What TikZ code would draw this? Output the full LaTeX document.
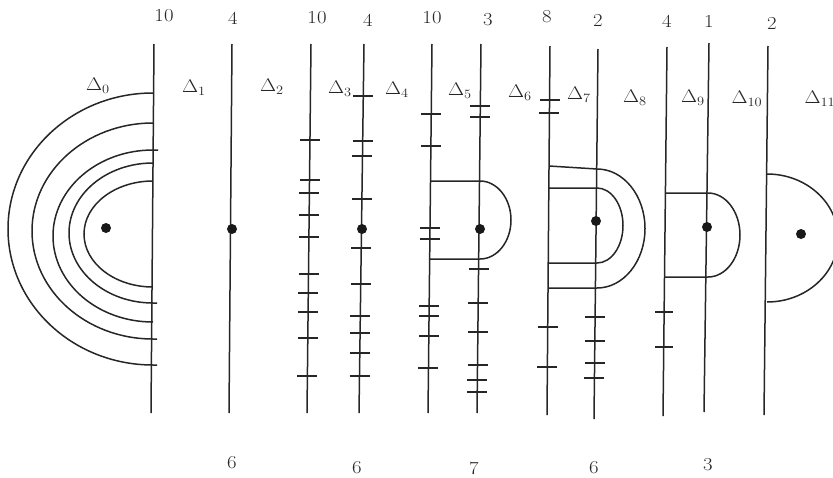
\documentclass[tikz,border=0pt]{standalone}
\usetikzlibrary{calc}
\newcommand{\mytickset}[6]{\foreach \yy in {#5}{\pgfmathsetmacro{\xx}{#1+(#3-#1)*(\yy-#2)/(#4-#2)}\draw[tk] ({\xx-#6},\yy) -- ({\xx+#6},\yy);}}
\begin{document}
\begin{tikzpicture}[x=1pt,y=-1pt,
  ln/.style={line width=1.5pt, draw=black!85},
  tk/.style={line width=1.5pt, draw=black!85},
  dot/.style={circle, fill=black!90, inner sep=0pt, minimum size=10pt},
  lab/.style={font=\fontsize{17.28}{20}\selectfont, inner sep=0pt, text=black!85, xscale=1.2, yscale=1.06, transform shape}]
\useasboundingbox (0,0) rectangle (833,477);

% vertical lines
\coordinate (L1t) at (154,44);  \coordinate (L1b) at (151,413);
\coordinate (L2t) at (232,44);  \coordinate (L2b) at (229,413);
\coordinate (L3t) at (311,44);  \coordinate (L3b) at (307,413);
\coordinate (L4t) at (364,44);  \coordinate (L4b) at (359,413);
\coordinate (L5t) at (432,44);  \coordinate (L5b) at (428,413);
\coordinate (L6t) at (481,44);  \coordinate (L6b) at (477,413);
\coordinate (L7t) at (550,46);  \coordinate (L7b) at (547,415);
\coordinate (L8t) at (598,49);  \coordinate (L8b) at (594,419);
\coordinate (L9t) at (667,47);  \coordinate (L9b) at (663,416);
\coordinate (L10t) at (709,43); \coordinate (L10b) at (704,412);
\coordinate (L11t) at (768,46); \coordinate (L11b) at (764,415);
\foreach \i in {1,...,11} \draw[ln] (L\i t) -- (L\i b);

% ticks
\mytickset{311}{44}{307}{413}{140,180,193,215,237,274,293,312,338,376}{10}
\mytickset{364}{44}{359}{413}{96,141,156,199,248,284,316,333,353,376}{10}
\mytickset{432}{44}{428}{413}{114,146,228,239,306,316,336,368}{10}
\mytickset{481}{44}{477}{413}{106,117,269,303,332,365,380,392}{10}
\mytickset{550}{46}{547}{415}{100,113,327,367}{10}
\mytickset{598}{49}{594}{419}{317,341,363,378}{10}
\mytickset{667}{47}{663}{416}{312,347}{9}

% nested arcs on the first line
\draw[ln] (153,93) arc[start angle=90,end angle=270,x radius=145pt,y radius=136pt] -- ++(4,0);
\draw[ln] (153,123) arc[start angle=90,end angle=270,x radius=121pt,y radius=108pt] -- ++(4,0);
\draw[ln] (158,150) -- (153,150) arc[start angle=90,end angle=270,x radius=100pt,y radius=86pt];
\draw[ln] (153,163) arc[start angle=90,end angle=270,x radius=84pt,y radius=70pt] -- ++(4,0);
\draw[ln] (153,181) arc[start angle=90,end angle=270,x radius=69pt,y radius=53pt];

% bridges
\draw[ln] (430,181) -- (480,181) arc[start angle=90,end angle=-90,x radius=31pt,y radius=39pt] -- (429,259);
\draw[ln] (549,166) -- (597,169) arc[start angle=90,end angle=-90,x radius=48pt,y radius=59.5pt] -- (548,288);
\draw[ln] (549,188) -- (597,188) arc[start angle=90,end angle=-90,x radius=26pt,y radius=37.5pt] -- (548,263);
\draw[ln] (666,193) -- (708,193) arc[start angle=90,end angle=-90,x radius=32pt,y radius=42pt] -- (665,277);
\draw[ln] (767,174) arc[start angle=90,end angle=-90,x radius=71pt,y radius=64pt];

% dots
\node[dot] (d1) at (106,228) {};
\node[dot] (d2) at (232,229) {};
\node[dot] (d3) at (362,229) {};
\node[dot] (d4) at (480,229) {};
\node[dot] (d5) at (596,221) {};
\node[dot] (d6) at (707,227) {};
\node[dot] (d7) at (801,234) {};

% top numbers
\node[lab] (t1) at (164,16) {10};
\node[lab] (t2) at (233,18) {4};
\node[lab] (t3) at (317,18) {10};
\node[lab] (t4) at (368,20) {4};
\node[lab] (t5) at (432,18) {10};
\node[lab] (t6) at (488,20) {3};
\node[lab] (t7) at (547,17) {8};
\node[lab] (t8) at (598,20) {2};
\node[lab] (t9) at (667,21) {4};
\node[lab] (t10) at (709,21) {1};
\node[lab] (t11) at (772,23) {2};

% region labels
\node[lab] (D0) at (98,86) {$\Delta_{0}$};
\node[lab] (D1) at (194,88) {$\Delta_{1}$};
\node[lab] (D2) at (272,87) {$\Delta_{2}$};
\node[lab] (D3) at (340,89) {$\Delta_{3}$};
\node[lab] (D4) at (397,90) {$\Delta_{4}$};
\node[lab] (D5) at (460,91) {$\Delta_{5}$};
\node[lab] (D6) at (520,93) {$\Delta_{6}$};
\node[lab] (D7) at (579,95) {$\Delta_{7}$};
\node[lab] (D8) at (635,98) {$\Delta_{8}$};
\node[lab] (D9) at (693,98) {$\Delta_{9}$};
\node[lab] (D10) at (747,99) {$\Delta_{10}$};
\node[lab] (D11) at (820,99) {$\Delta_{11}$};

% bottom numbers
\node[lab] (b1) at (232,463) {6};
\node[lab] (b2) at (357,468) {6};
\node[lab] (b3) at (474,468) {7};
\node[lab] (b4) at (594,468) {6};
\node[lab] (b5) at (708,465) {3};
\end{tikzpicture}
\end{document}
